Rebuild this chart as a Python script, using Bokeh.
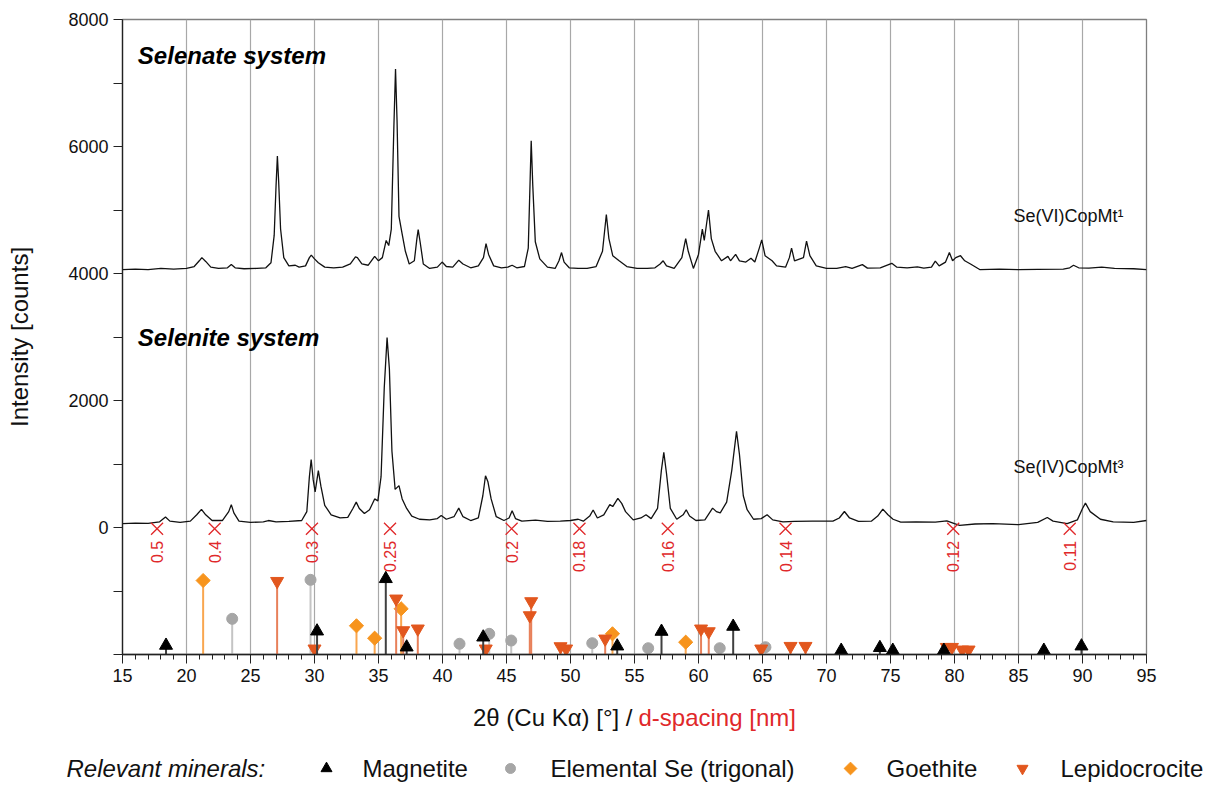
from bokeh.plotting import figure
from bokeh.models import Range1d, FixedTicker
from bokeh.layouts import column
from bokeh.core.properties import value
from bokeh.embed import file_html
from bokeh.resources import INLINE

FONT = "Liberation Sans"

# ---------------- data ----------------
selenate_x = [15.0, 16.0, 17.0, 18.0, 19.0, 20.0, 20.6, 21.0, 21.2, 21.5, 21.9, 22.5, 23.2, 23.5, 23.8, 24.5,
              25.5, 26.2, 26.6, 26.85, 27.0, 27.1, 27.2, 27.35, 27.6, 28.0, 28.5, 28.8, 29.3, 29.6, 29.75, 30.0,
              30.3, 30.8, 31.5, 32.2, 32.8, 33.2, 33.35, 33.7, 34.2, 34.7, 35.0, 35.3, 35.6, 35.8, 36.0, 36.2,
              36.33, 36.45, 36.6, 36.85, 37.1, 37.4, 37.8, 38.0, 38.1, 38.25, 38.5, 39.0, 39.6, 39.97, 40.3, 40.8,
              41.27, 41.6, 42.2, 42.8, 43.2, 43.4, 43.6, 44.0, 44.6, 45.1, 45.44, 45.8, 46.4, 46.7, 46.85, 46.93,
              47.05, 47.25, 47.6, 48.2, 48.8, 49.1, 49.3, 49.5, 49.9, 50.6, 51.3, 52.0, 52.5, 52.8, 53.0, 53.3,
              53.8, 54.4, 55.2, 56.0, 56.6, 57.0, 57.24, 57.5, 58.1, 58.7, 59.0, 59.2, 59.6, 60.0, 60.3, 60.45,
              60.78, 61.0, 61.3, 61.8, 62.3, 62.5, 62.9, 63.2, 63.7, 64.1, 64.4, 64.75, 64.94, 65.2, 65.75, 66.1,
              66.8, 67.1, 67.27, 67.5, 68.2, 68.44, 68.7, 69.2, 70.0, 70.8, 71.5, 72.0, 72.8, 73.2, 74.2, 75.1,
              75.5, 76.3, 77.1, 77.6, 78.2, 78.5, 78.8, 79.3, 79.6, 79.85, 80.1, 80.47, 80.8, 81.25, 82.0, 83.5,
              85.0, 86.5, 88.5, 89.0, 89.3, 89.7, 90.5, 91.5, 92.5, 94.0, 95.0]
selenate_y = [4060, 4070, 4060, 4080, 4070, 4080, 4110, 4200, 4250, 4190, 4100, 4080, 4090, 4140, 4090, 4075,
              4080, 4090, 4170, 4600, 5400, 5850, 5450, 4700, 4250, 4120, 4130, 4100, 4120, 4250, 4290, 4230,
              4170, 4100, 4090, 4100, 4150, 4260, 4250, 4150, 4130, 4270, 4200, 4250, 4520, 4440, 4700, 6300,
              7220, 6400, 4900, 4620, 4350, 4150, 4200, 4550, 4690, 4500, 4150, 4080, 4100, 4180, 4110, 4100,
              4210, 4150, 4090, 4120, 4250, 4470, 4300, 4120, 4090, 4100, 4130, 4090, 4110, 4400, 5500, 6090,
              5400, 4500, 4230, 4100, 4080, 4200, 4330, 4180, 4090, 4080, 4080, 4110, 4350, 4930, 4550, 4280,
              4200, 4110, 4080, 4080, 4090, 4150, 4200, 4120, 4080, 4250, 4550, 4350, 4080, 4300, 4700, 4520,
              5000, 4550, 4350, 4200, 4270, 4200, 4300, 4200, 4180, 4240, 4180, 4400, 4530, 4280, 4200, 4120,
              4100, 4250, 4400, 4200, 4250, 4510, 4280, 4120, 4080, 4080, 4110, 4080, 4140, 4085, 4090, 4160,
              4100, 4090, 4105, 4085, 4100, 4195, 4120, 4180, 4330, 4200, 4250, 4280, 4200, 4150, 4060, 4070,
              4060, 4065, 4070, 4090, 4130, 4090, 4085, 4100, 4080, 4075, 4060]

selenite_x = [15.0, 16.0, 17.0, 17.9, 18.36, 18.7, 19.5, 20.3, 20.8, 21.17, 21.5, 22.0, 22.8, 23.3, 23.5, 23.7,
              24.1, 25.0, 26.0, 26.4, 27.0, 28.0, 29.0, 29.4, 29.6, 29.74, 29.9, 30.05, 30.3, 30.5, 30.8, 31.3,
              32.0, 32.6, 33.0, 33.26, 33.5, 33.9, 34.3, 34.7, 34.95, 35.2, 35.45, 35.67, 35.85, 36.05, 36.3, 36.6,
              36.85, 37.2, 37.6, 38.2, 39.0, 39.6, 39.9, 40.3, 40.9, 41.27, 41.6, 42.2, 42.8, 43.15, 43.36, 43.55,
              43.8, 44.2, 44.8, 45.2, 45.44, 45.7, 46.2, 47.27, 48.2, 49.2, 50.0, 50.6, 51.0, 51.5, 51.77, 52.1,
              52.6, 53.07, 53.3, 53.7, 54.0, 54.3, 54.9, 55.5, 55.9, 56.3, 56.8, 57.1, 57.29, 57.5, 57.8, 58.3,
              58.8, 59.04, 59.3, 59.8, 60.5, 61.1, 61.4, 61.7, 62.2, 62.6, 62.97, 63.2, 63.5, 63.8, 64.3, 64.9,
              65.36, 65.8, 66.6, 67.5, 68.9, 70.5, 71.0, 71.4, 71.8, 72.5, 73.5, 74.0, 74.4, 74.8, 75.2, 75.8,
              77.0, 78.5, 79.4, 80.0, 80.4, 81.6, 83.0, 85.0, 86.5, 87.25, 87.7, 88.8, 89.6, 90.0, 90.23, 90.6,
              91.4, 92.4, 94.0, 95.0]
selenite_y = [60, 70, 65, 90, 165, 100, 80, 100, 200, 285, 200, 110, 110, 250, 360, 230,
              100, 80, 90, 110, 90, 95, 110, 250, 800, 1070, 750, 560, 895, 650, 350, 200,
              150, 160, 300, 400, 300, 220, 280, 450, 420, 800, 2200, 2990, 2500, 1200, 600, 660,
              450, 300, 180, 130, 120, 140, 190, 130, 170, 305, 170, 110, 150, 500, 815, 720,
              450, 170, 110, 150, 265, 140, 100, 115, 95, 100, 110, 130, 100, 180, 275, 150,
              200, 360, 330, 460, 380, 250, 120, 150, 200, 140, 300, 900, 1185, 850, 300, 130,
              200, 280, 180, 110, 120, 305, 250, 230, 400, 900, 1515, 1150, 500, 280, 130, 140,
              200, 120, 90, 95, 100, 100, 150, 252, 150, 95, 100, 180, 290, 200, 130, 85,
              90, 85, 105, 60, 35, 55, 60, 45, 80, 158, 100, 60, 120, 300, 384, 250,
              130, 90, 80, 110]

d_spacing_labels = ["0.5", "0.4", "0.3", "0.25", "0.2", "0.18", "0.16", "0.14", "0.12", "0.11"]
d_spacing_2theta = [17.7, 22.2, 29.8, 35.9, 45.4, 50.7, 57.6, 66.8, 79.9, 89.0]

magnetite_x = [18.4, 30.2, 35.57, 37.2, 43.18, 53.65, 57.11, 62.71, 71.15, 74.17, 75.18, 79.17, 86.98, 89.92]
magnetite_y = [-1858, -1633, -808, -1885, -1728, -1869, -1638, -1559, -1937, -1894, -1937, -1937, -1937, -1869]

selenium_x = [23.57, 29.69, 41.33, 43.65, 45.37, 51.7, 56.07, 61.66, 65.23]
selenium_y = [-1438, -824, -1831, -1674, -1780, -1822, -1901, -1901, -1885]

goethite_x = [21.3, 33.28, 34.7, 36.77, 53.28, 59.0]
goethite_y = [-835, -1548, -1743, -1280, -1674, -1806]

lepidocrocite_x = [27.08, 30.0, 36.38, 36.93, 38.07, 43.38, 46.82, 46.93, 49.22, 49.66, 52.71, 60.2, 60.8,
                   64.9, 67.19, 68.36, 79.4, 79.8, 80.6, 81.1]
lepidocrocite_y = [-846, -1910, -1123, -1622, -1595, -1910, -1386, -1165, -1874, -1910, -1753, -1595, -1638,
                   -1910, -1869, -1869, -1885, -1885, -1926, -1926]

x_ticks = [15, 20, 25, 30, 35, 40, 45, 50, 55, 60, 65, 70, 75, 80, 85, 90, 95]
y_ticks = [-2000, -1000, 0, 1000, 2000, 3000, 4000, 5000, 6000, 7000, 8000]
y_tick_labels = ["", "", "0", "", "2000", "", "4000", "", "6000", "", "8000"]

minerals = ["Magnetite", "Elemental Se (trigonal)", "Goethite", "Lepidocrocite"]

# ---------------- styles ----------------
RED = "#E0282A"
C_MAG, S_MAG = "#000000", "#404040"
C_SE, S_SE = "#A6A6A6", "#C4C4C4"
C_GOE, S_GOE = "#F7941D", "#F9A64F"
C_LEP, S_LEP = "#E2571E", "#E8805A"
DIAMOND_ANGLE = 0.7854

W = 1215
MAIN_H = 694
SH = 89

# ---------------- main figure ----------------
p = figure(width=W, height=MAIN_H, x_range=Range1d(15, 95), y_range=Range1d(-2000, 8000),
           output_backend="svg", toolbar_location=None, title=None,
           min_border_left=122, min_border_right=W - 1146, min_border_top=19, min_border_bottom=40)
p.frame_align = False

p.outline_line_color = "#7F7F7F"
p.outline_line_width = 1.3
p.background_fill_color = "white"
p.border_fill_color = "white"

p.xaxis.ticker = FixedTicker(ticks=x_ticks, minor_ticks=list(range(15, 96)))
p.xaxis.major_tick_out = 9
p.xaxis.major_tick_in = 0
p.xaxis.minor_tick_out = 5
p.xaxis.minor_tick_in = 0
p.xaxis.major_label_standoff = 5
p.xaxis.major_label_text_font = FONT
p.xaxis.major_label_text_font_size = "18px"
p.xaxis.major_label_text_color = "#111111"
p.xaxis.axis_line_color = "#222222"
p.xaxis.axis_line_width = 1.3
p.xaxis.major_tick_line_color = "#222222"
p.xaxis.minor_tick_line_color = "#222222"

p.yaxis.ticker = FixedTicker(ticks=y_ticks, minor_ticks=[])
p.yaxis.major_label_overrides = {t: lab for t, lab in zip(y_ticks, y_tick_labels)}
p.yaxis.major_tick_out = 9
p.yaxis.major_tick_in = 0
p.yaxis.minor_tick_out = 0
p.yaxis.minor_tick_in = 0
p.yaxis.major_label_standoff = 5
p.yaxis.major_label_text_font = FONT
p.yaxis.major_label_text_font_size = "18px"
p.yaxis.major_label_text_color = "#111111"
p.yaxis.axis_line_color = "#222222"
p.yaxis.axis_line_width = 1.3
p.yaxis.major_tick_line_color = "#222222"
p.yaxis.axis_label = "Intensity [counts]"
p.yaxis.axis_label_text_font = FONT
p.yaxis.axis_label_text_font_size = "24px"
p.yaxis.axis_label_text_font_style = "normal"
p.yaxis.axis_label_text_color = "#111111"
p.yaxis.axis_label_standoff = 32

p.xgrid.ticker = FixedTicker(ticks=x_ticks[1:-1])
p.xgrid.grid_line_color = "#A8A8A8"
p.xgrid.grid_line_width = 1.2
p.ygrid.visible = False

# XRD patterns
p.line(selenate_x, selenate_y, line_color="#111111", line_width=1.3)
p.line(selenite_x, selenite_y, line_color="#111111", line_width=1.3)

# d-spacing markers
p.scatter(d_spacing_2theta, [-20] * len(d_spacing_2theta), marker="x", size=17,
          line_color=RED, line_width=1.3)
p.text(d_spacing_2theta, [-210] * len(d_spacing_2theta), text=d_spacing_labels, angle=1.5708,
       text_align="right", text_baseline="middle", text_color=RED,
       text_font=value(FONT), text_font_size="16px")

# mineral reference sticks
for xs, ys, c, sc, mk, sz, ang in [
        (selenium_x, selenium_y, C_SE, S_SE, "circle", 11, 0.0),
        (goethite_x, goethite_y, C_GOE, S_GOE, "square", 10, DIAMOND_ANGLE),
        (lepidocrocite_x, lepidocrocite_y, C_LEP, S_LEP, "inverted_triangle", 13, 0.0),
        (magnetite_x, magnetite_y, C_MAG, S_MAG, "triangle", 13, 0.0)]:
    p.segment(xs, [-2000] * len(xs), xs, ys, line_color=sc, line_width=2)
    p.scatter(xs, ys, marker=mk, size=sz, angle=ang, fill_color=c, line_color=c)

# texts
p.text([16.2], [7430], text=["Selenate system"], text_font=value(FONT), text_font_style="bold italic",
       text_font_size="24px", text_align="left", text_baseline="middle", text_color="#000000")
p.text([16.2], [2990], text=["Selenite system"], text_font=value(FONT), text_font_style="bold italic",
       text_font_size="24px", text_align="left", text_baseline="middle", text_color="#000000")
p.text([84.6], [4910], text=["Se(VI)CopMt¹"], text_font=value(FONT), text_font_size="18px",
       text_align="left", text_baseline="middle", text_color="#111111")
p.text([84.6], [960], text=["Se(IV)CopMt³"], text_font=value(FONT), text_font_size="18px",
       text_align="left", text_baseline="middle", text_color="#111111")

# ---------------- bottom strip: axis title + legend ----------------
s = figure(width=W, height=SH, x_range=Range1d(0, W), y_range=Range1d(SH, 0),
           output_backend="svg", toolbar_location=None, title=None,
           x_axis_type=None, y_axis_type=None, min_border=0)
s.frame_align = False
s.outline_line_color = None
s.background_fill_color = "white"
s.border_fill_color = "white"

s.text([632], [23], text=["2θ (Cu Kα) [°] /"], text_font=value(FONT), text_font_size="24px",
       text_align="right", text_baseline="middle", text_color="#111111")
s.text([638], [23], text=["d-spacing [nm]"], text_font=value(FONT), text_font_size="24px",
       text_align="left", text_baseline="middle", text_color=RED)

LY = 74
s.text([66], [LY], text=["Relevant minerals:"], text_font=value(FONT), text_font_size="24px",
       text_font_style="italic", text_align="left", text_baseline="middle", text_color="#111111")
leg_marker_x = [326, 510, 850, 1022]
leg_text_x = [362, 550, 886, 1060]
leg_styles = [("triangle", C_MAG, 11, 0.0), ("circle", C_SE, 10, 0.0), ("square", C_GOE, 9, DIAMOND_ANGLE),
              ("inverted_triangle", C_LEP, 11, 0.0)]
for mx, tx, name, (mk, c, sz, ang) in zip(leg_marker_x, leg_text_x, minerals, leg_styles):
    s.scatter([mx], [LY], marker=mk, size=sz, angle=ang, fill_color=c, line_color=c)
    s.text([tx], [LY], text=[name], text_font=value(FONT), text_font_size="24px",
           text_align="left", text_baseline="middle", text_color="#111111")

layout = column(p, s, spacing=0)
open("out.html", "w").write(file_html(layout, INLINE))
